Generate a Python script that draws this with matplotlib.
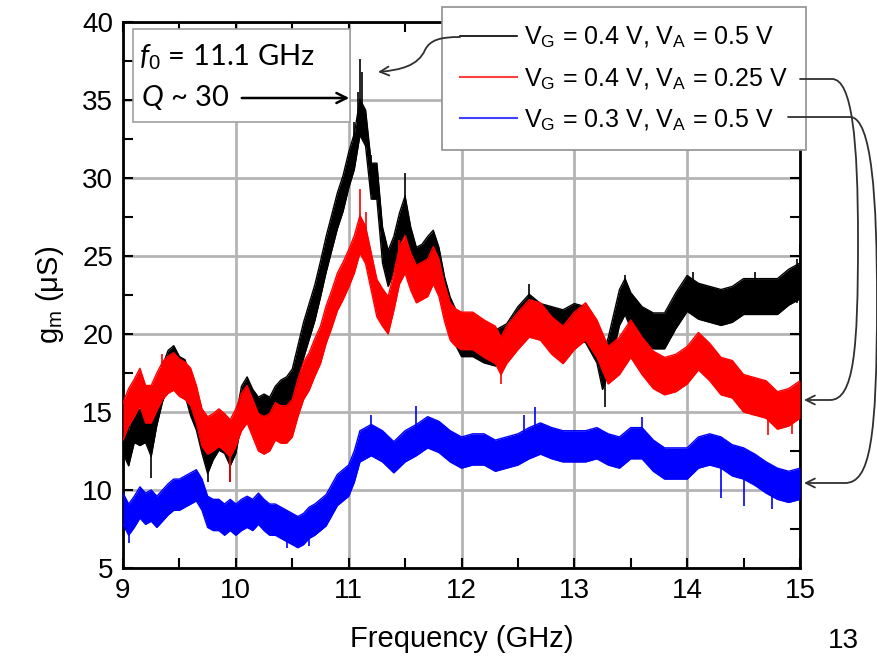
import matplotlib.pyplot as plt
from matplotlib.path import Path
from matplotlib.patches import FancyArrowPatch, Rectangle
from matplotlib.lines import Line2D
from matplotlib.ticker import MultipleLocator

plt.rcParams['font.family'] = ['Liberation Sans', 'DejaVu Sans']
plt.rcParams['mathtext.fontset'] = 'custom'
plt.rcParams['mathtext.rm'] = 'Liberation Sans'
plt.rcParams['mathtext.it'] = 'Lato:italic'

# ---- data (GHz, uS) ----
# V_G = 0.4 V, V_A = 0.5 V (black)
f_black = [9.0, 9.05, 9.1, 9.15, 9.2, 9.25, 9.3, 9.35, 9.4, 9.45, 9.5, 9.55, 9.6, 9.65, 9.7, 9.75,
           9.8, 9.85, 9.9, 9.95, 10.0, 10.05, 10.1, 10.15, 10.2, 10.25, 10.3, 10.35, 10.4, 10.45,
           10.5, 10.55, 10.6, 10.65, 10.7, 10.75, 10.8, 10.85, 10.9, 10.95, 11.0, 11.05, 11.1,
           11.15, 11.2, 11.25, 11.3, 11.35, 11.4, 11.45, 11.5, 11.55, 11.6, 11.65, 11.7, 11.75,
           11.8, 11.85, 11.9, 11.95, 12.0, 12.1, 12.2, 12.3, 12.4, 12.5, 12.6, 12.7, 12.8, 12.9,
           13.0, 13.1, 13.2, 13.25, 13.3, 13.4, 13.45, 13.5, 13.6, 13.7, 13.8, 13.9, 14.0, 14.1,
           14.2, 14.3, 14.4, 14.5, 14.6, 14.7, 14.8, 14.9, 15.0]
g_black = [13.5, 12.7, 14.2, 14.0, 14.2, 13.3, 15.3, 16.8, 17.8, 18.1, 17.4, 17.2, 15.9, 15.0, 13.5, 12.2,
           13.1, 13.7, 13.5, 12.7, 13.5, 15.5, 16.1, 15.3, 14.8, 15.0, 14.8, 15.5, 15.9, 16.1,
           16.6, 18.1, 19.6, 20.8, 22.0, 23.5, 25.1, 26.5, 27.9, 29.0, 30.5, 31.7, 33.9,
           33.2, 29.8, 29.8, 25.7, 24.2, 25.1, 26.6, 27.7, 25.7, 24.4, 24.6, 25.1, 25.5,
           24.4, 22.5, 21.2, 20.4, 19.7, 19.7, 19.3, 19.1, 19.5, 20.6, 21.4, 20.8, 20.6, 20.4,
           20.8, 20.6, 19.3, 17.6, 18.6, 21.7, 22.4, 21.5, 20.6, 20.2, 20.2, 21.5, 22.6, 22.1,
           21.9, 21.7, 21.9, 22.4, 22.4, 22.4, 22.4, 23.0, 23.4]

# V_G = 0.4 V, V_A = 0.25 V (red)
f_red = [9.0, 9.05, 9.1, 9.15, 9.2, 9.25, 9.3, 9.35, 9.4, 9.45, 9.5, 9.55, 9.6, 9.65, 9.7, 9.75,
         9.8, 9.85, 9.9, 9.95, 10.0, 10.05, 10.1, 10.15, 10.2, 10.25, 10.3, 10.35, 10.4, 10.45,
         10.5, 10.55, 10.6, 10.65, 10.7, 10.75, 10.8, 10.85, 10.9, 10.95, 11.0, 11.05, 11.1,
         11.15, 11.2, 11.25, 11.3, 11.35, 11.4, 11.45, 11.5, 11.55, 11.6, 11.65, 11.7, 11.75,
         11.8, 11.85, 11.9, 11.95, 12.0, 12.1, 12.2, 12.3, 12.35, 12.4, 12.5, 12.6, 12.7, 12.8,
         12.9, 13.0, 13.1, 13.2, 13.3, 13.4, 13.5, 13.6, 13.7, 13.8, 13.9, 14.0, 14.1, 14.2,
         14.3, 14.4, 14.5, 14.6, 14.7, 14.8, 14.9, 15.0]
g_red = [14.4, 15.3, 15.9, 16.6, 15.5, 15.5, 16.3, 17.0, 17.4, 17.6, 17.2, 17.0, 16.6, 15.5, 14.0, 13.5,
         13.7, 14.0, 13.7, 13.3, 14.0, 15.0, 15.5, 14.6, 13.7, 13.5, 13.7, 14.4, 14.2, 14.2,
         14.6, 15.9, 17.0, 17.6, 18.5, 19.3, 20.6, 21.6, 22.7, 23.4, 24.2, 25.1, 26.4,
         25.7, 24.0, 22.3, 21.7, 21.2, 22.7, 24.4, 25.1, 24.0, 23.2, 23.4, 23.6, 24.4,
         23.6, 22.0, 20.8, 20.4, 20.2, 20.2, 19.7, 19.3, 18.6, 19.3, 20.2, 21.0, 20.8, 19.9,
         19.3, 20.2, 20.8, 19.7, 18.0, 18.6, 19.7, 18.6, 17.7, 17.3, 17.5, 18.0, 18.9, 18.2,
         17.3, 17.1, 16.2, 16.0, 15.8, 15.1, 15.3, 15.8]

# V_G = 0.3 V, V_A = 0.5 V (blue)
f_blue = [9.0, 9.05, 9.1, 9.15, 9.2, 9.25, 9.3, 9.35, 9.4, 9.45, 9.5, 9.55, 9.6, 9.65, 9.7, 9.75,
          9.8, 9.85, 9.9, 9.95, 10.0, 10.05, 10.1, 10.15, 10.2, 10.25, 10.3, 10.35, 10.4, 10.45,
          10.5, 10.55, 10.6, 10.65, 10.7, 10.8, 10.9, 11.0, 11.05, 11.1, 11.2, 11.3, 11.4, 11.5,
          11.6, 11.7, 11.8, 11.9, 12.0, 12.1, 12.2, 12.3, 12.4, 12.5, 12.6, 12.7, 12.8, 12.9,
          13.0, 13.1, 13.2, 13.3, 13.4, 13.5, 13.6, 13.7, 13.8, 13.9, 14.0, 14.1, 14.2, 14.3,
          14.4, 14.5, 14.6, 14.7, 14.8, 14.9, 15.0]
g_blue = [8.8, 8.1, 8.6, 9.2, 8.8, 9.0, 8.6, 9.0, 9.4, 9.7, 9.7, 9.9, 10.1, 10.3, 9.7, 8.6,
          8.4, 8.4, 8.1, 8.4, 8.1, 8.4, 8.6, 8.4, 8.8, 8.4, 8.1, 8.1, 7.9, 7.7,
          7.5, 7.3, 7.5, 7.9, 8.1, 8.7, 10.0, 10.6, 11.5, 12.8, 13.2, 12.8, 12.1, 12.8,
          13.2, 13.7, 13.4, 12.8, 12.4, 12.6, 12.6, 12.2, 12.4, 12.6, 13.0, 13.3, 13.0, 12.8,
          12.8, 12.8, 13.0, 12.6, 12.4, 13.0, 13.0, 12.2, 11.7, 11.7, 11.7, 12.4, 12.6, 12.4,
          11.9, 11.7, 11.3, 10.8, 10.4, 10.2, 10.4]

# half width of the noise band (uS)
spread = {'black': 1.15, 'red': 1.2, 'blue': 1.0}

# isolated spikes: frequency, bottom, top
spk_black = ([11.1, 11.12, 11.08, 11.5, 15.0, 14.97, 9.0, 9.25, 9.75, 9.95, 13.27, 11.2, 13.45,
              14.05, 14.6, 12.6, 11.05],
             [33.0, 33.0, 32.0, 27.0, 23.0, 22.0, 11.0, 10.8, 10.5, 10.5, 15.3, 29.0, 22.0,
              22.0, 22.0, 21.0, 31.0],
             [37.6, 36.8, 35.5, 30.3, 25.8, 24.8, 14.0, 13.5, 12.5, 12.5, 18.0, 31.5, 23.8,
              24.0, 24.0, 23.2, 33.6])
spk_red = ([11.1, 11.15, 9.95, 13.3, 14.72, 14.93, 11.45, 9.35, 12.35],
           [25.5, 25.0, 10.5, 17.0, 13.5, 13.6, 23.5, 16.0, 16.8],
           [29.3, 27.8, 13.0, 19.0, 16.0, 15.8, 26.0, 18.7, 19.0])
spk_blue = ([11.6, 12.65, 12.55, 9.05, 14.5, 14.75, 11.2, 13.6, 14.3, 10.45, 10.65],
            [13.0, 12.8, 12.5, 6.6, 9.0, 8.8, 12.5, 12.5, 9.5, 6.3, 6.4],
            [15.4, 15.3, 14.8, 8.5, 11.5, 10.5, 14.8, 14.7, 11.5, 8.0, 8.0])

W, H = 878, 658
fig = plt.figure(figsize=(W / 100, H / 100), dpi=100)
ax = fig.add_axes([123 / W, 1 - 568 / H, 677 / W, 546 / H])


def fp(x, y):
    # image pixel -> figure fraction
    return (x / W, 1 - y / H)


series = [(f_black, g_black, 'black', spk_black),
          (f_red, g_red, 'red', spk_red),
          (f_blue, g_blue, 'blue', spk_blue)]
colors = {'black': '#000000', 'red': '#ff0000', 'blue': '#0000ff'}

for z, (f, g, name, spk) in enumerate(series):
    c = colors[name]
    s = spread[name]
    lo = [v - s for v in g]
    hi = [v + s for v in g]
    ax.fill_between(f, lo, hi, color=c, lw=0, zorder=3 + z)
    ax.plot(f, lo, color=c, lw=1.0, zorder=3 + z)
    ax.plot(f, hi, color=c, lw=1.0, zorder=3 + z)
    ax.vlines(spk[0], spk[1], spk[2], color=c, lw=1.2, zorder=3 + z)

ax.set_xlim(9, 15)
ax.set_ylim(5, 40)
ax.xaxis.set_major_locator(MultipleLocator(1))
ax.xaxis.set_minor_locator(MultipleLocator(0.5))
ax.yaxis.set_major_locator(MultipleLocator(5))
ax.yaxis.set_minor_locator(MultipleLocator(2.5))
ax.grid(True, which='major', color='#b4b4b4', lw=2, zorder=0)
ax.set_axisbelow(True)
ax.tick_params(which='both', direction='in', top=True, right=True, length=7, width=1.5,
               labelsize=20, pad=7)
for sp in ax.spines.values():
    sp.set_linewidth(2)

ax.set_xlabel('Frequency (GHz)', fontsize=21, labelpad=15)
ax.set_ylabel(r'g$_\mathrm{m}$ ($\mathrm{\mu}$S)', fontsize=21, labelpad=12)

# annotation box
fig.add_artist(Rectangle(fp(133, 122), (350 - 133) / W, (122 - 29) / H, transform=fig.transFigure,
                         facecolor='white', edgecolor='#a0a0a0', lw=1.2, zorder=10))
fig.text(*fp(139, 57), r'$f_{\mathit{0}}$ = 11.1 GHz', family='Lato', fontsize=21,
         va='center', ha='left', zorder=11)
fig.text(*fp(141, 98), r'$Q$ ~ 30', family='Lato', fontsize=21, va='center', ha='left', zorder=11)
fig.add_artist(FancyArrowPatch(fp(239, 98), fp(352, 98), transform=fig.transFigure,
                               arrowstyle='->', mutation_scale=18, lw=1.8, color='black', zorder=11))

# legend
handles = [Line2D([], [], color='#000000', lw=1.2),
           Line2D([], [], color='#ff4040', lw=1.5),
           Line2D([], [], color='#4040ff', lw=1.5)]
labels = [r'V$_\mathrm{G}$ = 0.4 V, V$_\mathrm{A}$ = 0.5 V',
          r'V$_\mathrm{G}$ = 0.4 V, V$_\mathrm{A}$ = 0.25 V',
          r'V$_\mathrm{G}$ = 0.3 V, V$_\mathrm{A}$ = 0.5 V']
leg = fig.legend(handles, labels, loc='upper left', bbox_to_anchor=fp(442, 7), fontsize=18,
                 frameon=True, fancybox=False, framealpha=1, edgecolor='#909090',
                 handlelength=2.3, handletextpad=0.3, borderpad=0.7, labelspacing=0.62,
                 borderaxespad=0)
leg.get_frame().set_linewidth(1.2)
leg.set_zorder(12)

# curved pointers from legend to traces
arrow_kw = dict(transform=fig.transFigure, arrowstyle='->', mutation_scale=16, lw=1.3,
                color='#303030', zorder=13)
p_black = Path([fp(460, 37), fp(440, 37), fp(430, 40), fp(425, 50),
                fp(418, 66), fp(400, 70), fp(378, 72)],
               [Path.MOVETO, Path.CURVE4, Path.CURVE4, Path.CURVE4,
                Path.CURVE4, Path.CURVE4, Path.CURVE4])
p_red = Path([fp(800, 79), fp(832, 79), fp(852, 79), fp(858, 140), fp(858, 240),
              fp(858, 350), fp(854, 400), fp(830, 400), fp(804, 400)],
             [Path.MOVETO, Path.LINETO, Path.CURVE4, Path.CURVE4, Path.CURVE4,
              Path.CURVE4, Path.CURVE4, Path.CURVE4, Path.LINETO])
p_blue = Path([fp(788, 117), fp(850, 117), fp(872, 117), fp(877, 200), fp(877, 300),
               fp(877, 440), fp(870, 483), fp(845, 483), fp(804, 483)],
              [Path.MOVETO, Path.LINETO, Path.CURVE4, Path.CURVE4, Path.CURVE4,
               Path.CURVE4, Path.CURVE4, Path.CURVE4, Path.LINETO])
for p in (p_black, p_red, p_blue):
    fig.add_artist(FancyArrowPatch(path=p, **arrow_kw))

# slide number
fig.text(*fp(828, 628), '13', fontsize=20, va='top', ha='left')

fig.savefig('out.png', dpi=100)
